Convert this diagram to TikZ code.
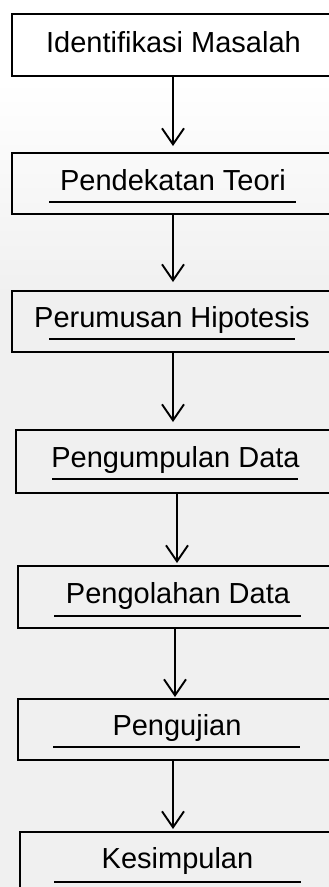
\documentclass[tikz,border=0pt]{standalone}
\usepackage{fontspec}
\setmainfont{Liberation Sans}
\usetikzlibrary{arrows.meta,calc}
\begin{document}
\begin{tikzpicture}[x=1pt,y=-1pt,
  box/.style={draw=black, line width=1.9pt, rectangle, anchor=north west, inner sep=0pt, minimum width=345pt},
  lbl/.style={anchor=base, font=\fontsize{29}{31}\selectfont, inner sep=0pt, text=black},
  uline/.style={line width=1.6pt},
  arr/.style={line width=1.9pt, -{Straight Barb[length=16pt,width=22pt]}}]
\useasboundingbox (0,0) rectangle (329,887);
\clip (0,0) rectangle (329,887);
% background
\fill[white] (0,0) rectangle (329,887);
\shade[top color=white, bottom color=gray!12] (0,80) rectangle (329,300);
\fill[gray!12] (0,300) rectangle (329,887);
% boxes
\node[box, minimum height=62pt] (b1) at (11,13) {};
\node[box, minimum height=61pt] (b2) at (11,152) {};
\node[box, minimum height=61pt] (b3) at (11,290) {};
\node[box, minimum height=63pt] (b4) at (15,429) {};
\node[box, minimum height=62pt] (b5) at (17,565) {};
\node[box, minimum height=61pt] (b6) at (17,698) {};
\node[box, minimum height=70pt] (b7) at (19,831) {};
% labels
\node[lbl] (t1) at (173.5,52) {Identifikasi Masalah};
\node[lbl] (t2) at (173,190) {Pendekatan Teori};
\node[lbl] (t3) at (172,327) {Perumusan Hipotesis};
\node[lbl] (t4) at (175.5,467) {Pengumpulan Data};
\node[lbl] (t5) at (178,603) {Pengolahan Data};
\node[lbl] (t6) at (177,735) {Pengujian};
\node[lbl] (t7) at (177.5,868) {Kesimpulan};
% underlines
\draw[uline] (49,202) -- (296,202);
\draw[uline] (49,339) -- (295,339);
\draw[uline] (52,479) -- (298,479);
\draw[uline] (54,616) -- (301,616);
\draw[uline] (53,747) -- (300,747);
\draw[uline] (54,882) -- (301,882);
% arrow columns
\coordinate (x1) at (173,0);
\coordinate (x2) at (173,0);
\coordinate (x3) at (173,0);
\coordinate (x4) at (177,0);
\coordinate (x5) at (175,0);
\coordinate (x6) at (173,0);
\draw[arr, shorten >=6pt] (b1.south -| x1) -- (b2.north -| x1);
\draw[arr, shorten >=8pt] (b2.south -| x2) -- (b3.north -| x2);
\draw[arr, shorten >=7pt] (b3.south -| x3) -- (b4.north -| x3);
\draw[arr, shorten >=2pt] (b4.south -| x4) -- (b5.north -| x4);
\draw[arr, shorten >=1pt] (b5.south -| x5) -- (b6.north -| x5);
\draw[arr, shorten >=2pt] (b6.south -| x6) -- (b7.north -| x6);
\end{tikzpicture}
\end{document}
